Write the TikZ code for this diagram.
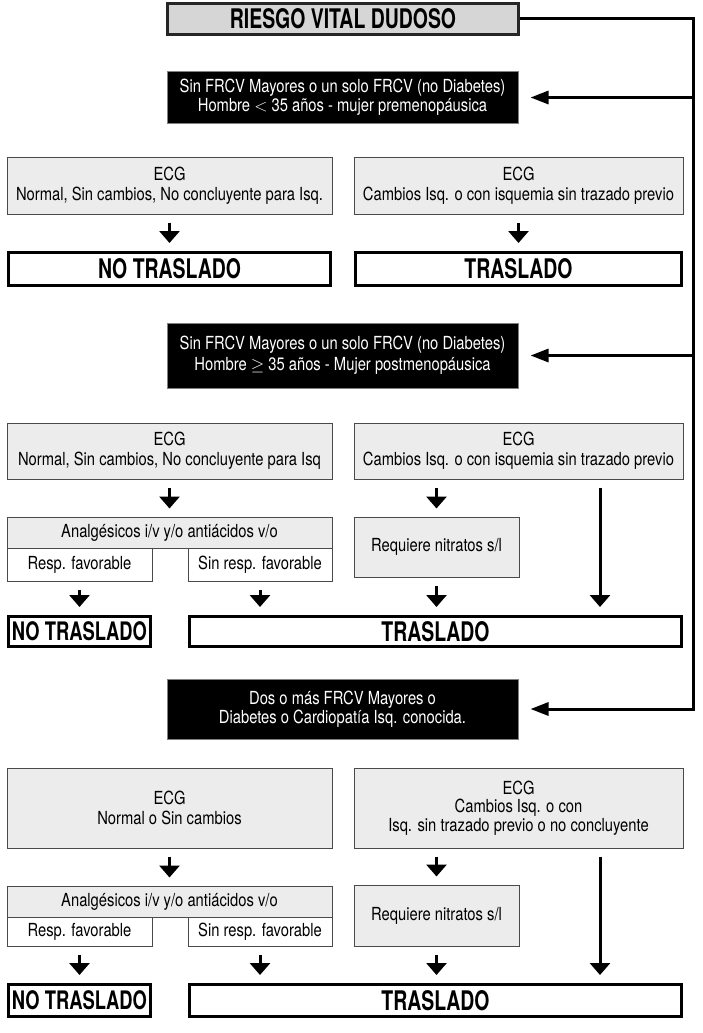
\documentclass[tikz,border=0pt]{standalone}
\usepackage{fontspec}
\setmainfont{TeX Gyre Heros}[FakeStretch=0.82]
\newfontfamily\heavyfont{TeX Gyre Heros}[FakeStretch=0.72]
\usetikzlibrary{arrows.meta}
\definecolor{boxgray}{HTML}{ECECEC}
\definecolor{titlegray}{HTML}{D6D6D6}
\definecolor{edgegray}{HTML}{4A4A4A}
\begin{document}
\begin{tikzpicture}[x=1pt,y=-1pt,
 txt/.style={font=\fontsize{18}{20}\selectfont,align=center,inner sep=0pt},
 ecg/.style={txt,draw=edgegray,fill=boxgray,line width=1pt},
 resp/.style={txt,draw=edgegray,fill=white,line width=1pt},
 blk/.style={txt,draw=gray,fill=black,text=white,line width=1pt,minimum width=351pt,font=\fontsize{18}{19}\selectfont},
 res/.style={draw,line width=3pt,fill=white,inner sep=0pt,font=\heavyfont\bfseries\fontsize{27}{27}\selectfont},
 smallres/.style={res,font=\heavyfont\bfseries\fontsize{25.5}{26}\selectfont},
 titlebox/.style={res,fill=titlegray,draw=black!85},
 dn/.style={line width=3pt,-{Triangle[length=12pt,width=20pt]},shorten <=8pt,shorten >=8pt},
 lf/.style={line width=3pt,-{Triangle[length=18pt,width=13pt]},shorten >=12pt},
 ]
\useasboundingbox (0,0) rectangle (702,1033);

\node[titlebox,minimum width=351pt,minimum height=31pt] (riesgo) at (343,19) {RIESGO VITAL DUDOSO};
\coordinate (rail) at (693,0);
\coordinate (lane) at (600,0);

% grupo 1
\node[blk,minimum height=51pt] (blk1) at (342.5,97.5) {Sin FRCV Mayores o un solo FRCV (no Diabetes)\\Hombre $<$ 35 años - mujer premenopáusica};
\node[ecg,minimum width=325pt,minimum height=57pt] (ecgA) at (169.5,185.5) {ECG\\Normal, Sin cambios, No concluyente para Isq.};
\node[ecg,minimum width=329pt,minimum height=57pt] (ecgB) at (518.5,185.5) {ECG\\Cambios Isq. o con isquemia sin trazado previo};
\node[res,minimum width=322pt,minimum height=33pt] (noA) at (169.5,269) {NO TRASLADO};
\node[res,minimum width=326pt,minimum height=33pt] (trA) at (518.5,269) {TRASLADO};
\draw[dn] (ecgA) -- (noA);
\draw[dn] (ecgB) -- (trA);

% grupo 2
\node[blk,minimum height=65pt,font=\fontsize{18}{21}\selectfont] (blk2) at (342.5,355.5) {Sin FRCV Mayores o un solo FRCV (no Diabetes)\\Hombre $\geq$ 35 años - Mujer postmenopáusica};
\node[ecg,minimum width=325pt,minimum height=56pt] (ecgC) at (169.5,451) {ECG\\Normal, Sin cambios, No concluyente para Isq};
\node[ecg,minimum width=329pt,minimum height=56pt] (ecgD) at (518.5,451) {ECG\\Cambios Isq. o con isquemia sin trazado previo};
\node[ecg,minimum width=325pt,minimum height=31pt] (anaC) at (169.5,532.5) {Analgésicos i/v y/o antiácidos v/o};
\node[resp,minimum width=145pt,minimum height=33pt] (favC) at (79.5,564.5) {Resp. favorable};
\node[resp,minimum width=144pt,minimum height=33pt] (sinC) at (260,564.5) {Sin resp. favorable};
\node[ecg,minimum width=165pt,minimum height=60pt] (nitD) at (436.5,547) {Requiere nitratos s/l};
\node[smallres,minimum width=142pt,minimum height=30pt] (noC) at (79.5,631.5) {NO TRASLADO};
\node[res,minimum width=492pt,minimum height=30pt] (trC) at (435.5,631.5) {TRASLADO};
\draw[dn] (ecgC) -- (anaC);
\draw[dn] (favC) -- (noC);
\draw[dn] (sinC.south) -- (trC.north -| sinC);
\draw[dn] (ecgD.south -| nitD) -- (nitD);
\draw[dn] (nitD.south) -- (trC.north -| nitD);
\draw[dn] (ecgD.south -| lane) -- (trC.north -| lane);

% grupo 3
\node[blk,minimum height=60pt] (blk3) at (342.5,709) {Dos o más FRCV Mayores o\\Diabetes o Cardiopatía Isq. conocida.};
\node[ecg,minimum width=325pt,minimum height=80pt] (ecgE) at (169.5,808) {ECG\\Normal o Sin cambios};
\node[ecg,minimum width=329pt,minimum height=80pt,font=\fontsize{18}{18.5}\selectfont] (ecgF) at (518.5,808) {ECG\\Cambios Isq. o con\\Isq. sin trazado previo o no concluyente};
\node[ecg,minimum width=325pt,minimum height=31pt] (anaE) at (169.5,901.5) {Analgésicos i/v y/o antiácidos v/o};
\node[resp,minimum width=145pt,minimum height=29pt] (favE) at (79.5,931.5) {Resp. favorable};
\node[resp,minimum width=144pt,minimum height=29pt] (sinE) at (260,931.5) {Sin resp. favorable};
\node[ecg,minimum width=165pt,minimum height=61pt] (nitF) at (436.5,915.5) {Requiere nitratos s/l};
\node[smallres,minimum width=142pt,minimum height=32pt] (noE) at (79.5,1000.5) {NO TRASLADO};
\node[res,minimum width=492pt,minimum height=32pt] (trE) at (435.5,1000.5) {TRASLADO};
\draw[dn] (ecgE) -- (anaE);
\draw[dn] (favE) -- (noE);
\draw[dn] (sinE.south) -- (trE.north -| sinE);
\draw[dn] (ecgF.south -| nitF) -- (nitF);
\draw[dn] (nitF.south) -- (trE.north -| nitF);
\draw[dn] (ecgF.south -| lane) -- (trE.north -| lane);

% flechas laterales
\draw[lf] (riesgo.east) -| (rail |- blk3) -- (blk3.east);
\draw[lf] (rail |- blk1) -- (blk1.east);
\draw[lf] (rail |- blk2) -- (blk2.east);
\end{tikzpicture}
\end{document}
